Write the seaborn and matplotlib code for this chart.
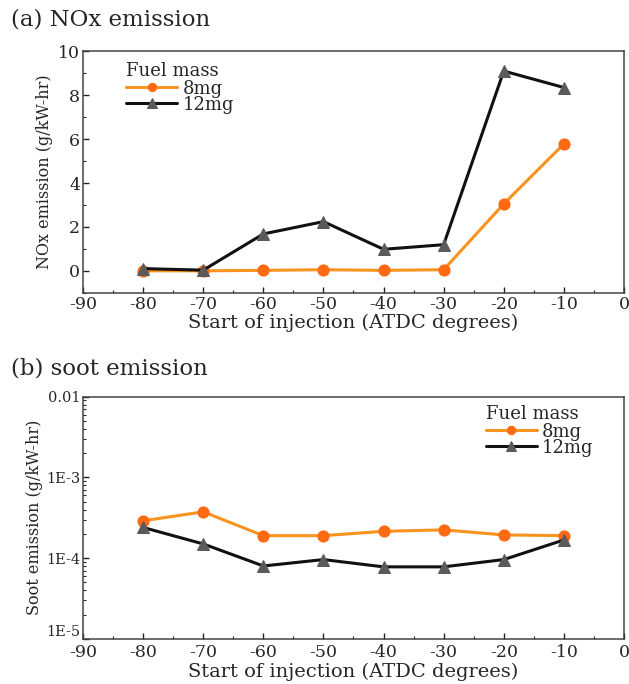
import numpy as np
import pandas as pd
import matplotlib
matplotlib.use("Agg")
import matplotlib.pyplot as plt
from matplotlib.ticker import MultipleLocator, LogLocator, NullFormatter
import seaborn as sns

soi = [-80, -70, -60, -50, -40, -30, -20, -10]
nox_8mg = [0.0, 0.0, 0.02, 0.05, 0.02, 0.05, 3.05, 5.78]
nox_12mg = [0.1, 0.03, 1.68, 2.24, 0.98, 1.19, 9.1, 8.35]
soot_8mg = [2.9e-4, 3.75e-4, 1.9e-4, 1.9e-4, 2.15e-4, 2.24e-4, 1.94e-4, 1.9e-4]
soot_12mg = [2.4e-4, 1.5e-4, 8.0e-5, 9.6e-5, 7.8e-5, 7.8e-5, 9.6e-5, 1.68e-4]
series = ["8mg", "12mg"]
x_ticks = [-90, -80, -70, -60, -50, -40, -30, -20, -10, 0]
nox_ticks = [0, 2, 4, 6, 8, 10]
soot_ticks = [1e-5, 1e-4, 1e-3, 1e-2]
soot_tick_labels = ["1E-5", "1E-4", "1E-3", "0.01"]

sns.set_style("ticks")
plt.rcParams['font.family'] = ['DejaVu Serif', 'Liberation Serif']
plt.rcParams['axes.unicode_minus'] = False

df_nox = pd.DataFrame({
    "soi": soi * 2,
    "val": nox_8mg + nox_12mg,
    "mass": [series[0]] * len(soi) + [series[1]] * len(soi),
})
df_soot = pd.DataFrame({
    "soi": soi * 2,
    "val": soot_8mg + soot_12mg,
    "mass": [series[0]] * len(soi) + [series[1]] * len(soi),
})

line_colors = {"8mg": "#f7931e", "12mg": "#111111"}
marker_face = {"8mg": "#ff6a13", "12mg": "#5a5a5a"}
markers = {"8mg": "o", "12mg": "^"}
msizes = {"8mg": 8, "12mg": 9}

fig = plt.figure(figsize=(6.29, 6.84), dpi=100)
ax1 = fig.add_axes([0.132, 0.572, 0.860, 0.353])
ax2 = fig.add_axes([0.132, 0.066, 0.860, 0.354])


def draw(ax, df):
    for m in series:
        sub = df[df["mass"] == m]
        sns.lineplot(data=sub, x="soi", y="val", ax=ax, color=line_colors[m],
                     marker=markers[m], markersize=msizes[m],
                     markerfacecolor=marker_face[m], markeredgecolor=marker_face[m],
                     linewidth=2.2, label=m, legend=True)


draw(ax1, df_nox)
draw(ax2, df_soot)

for ax in (ax1, ax2):
    ax.set_xlim(-90, 0)
    ax.set_xticks(x_ticks)
    ax.xaxis.set_minor_locator(MultipleLocator(5))
    ax.tick_params(which="both", direction="in", top=False, right=False,
                   labelsize=12.5, color="#222222", pad=2)
    ax.tick_params(which="major", length=4, width=1)
    ax.tick_params(which="minor", length=2.5, width=0.8)
    for s in ax.spines.values():
        s.set_color("#444444")
        s.set_linewidth(1.1)
    ax.set_xlabel("Start of injection (ATDC degrees)", fontsize=14, labelpad=1)

ax1.set_ylim(-1, 10)
ax1.set_yticks(nox_ticks)
ax1.yaxis.set_minor_locator(MultipleLocator(1))
ax1.set_ylabel("NOx emission (g/kW-hr)", fontsize=11.5, labelpad=4)

ax2.set_yscale("log")
ax2.set_ylim(1e-5, 1e-2)
ax2.set_yticks(soot_ticks)
ax2.set_yticklabels(soot_tick_labels)
ax2.yaxis.set_minor_locator(LogLocator(base=10, subs=np.arange(2, 10)))
ax2.yaxis.set_minor_formatter(NullFormatter())
ax2.set_ylabel("Soot emission (g/kW-hr)", fontsize=11.5, labelpad=2)
ax2.tick_params(axis="y", labelsize=10.5)
ax2.tick_params(axis="x", pad=4)
for lbl in ax2.get_yticklabels():
    if lbl.get_text() == "1E-5":
        lbl.set_verticalalignment("bottom")

leg1 = ax1.legend(title="Fuel mass", loc="upper left", bbox_to_anchor=(0.07, 0.98),
                  frameon=False, fontsize=13, title_fontsize=13, handlelength=2.8,
                  labelspacing=-0.1, handletextpad=0.3, borderaxespad=0.2,
                  markerscale=0.75, borderpad=0.1)
leg1._legend_box.align = "left"
leg1._legend_box.sep = 0
leg2 = ax2.legend(title="Fuel mass", loc="upper left", bbox_to_anchor=(0.735, 0.99),
                  frameon=False, fontsize=13, title_fontsize=13, handlelength=2.8,
                  labelspacing=-0.1, handletextpad=0.3, borderaxespad=0.2,
                  markerscale=0.75, borderpad=0.1)
leg2._legend_box.align = "left"
leg2._legend_box.sep = 0

fig.text(0.018, 0.962, "(a) NOx emission", fontsize=16.5)
fig.text(0.018, 0.452, "(b) soot emission", fontsize=16.5)

fig.savefig("out.png", dpi=100)
